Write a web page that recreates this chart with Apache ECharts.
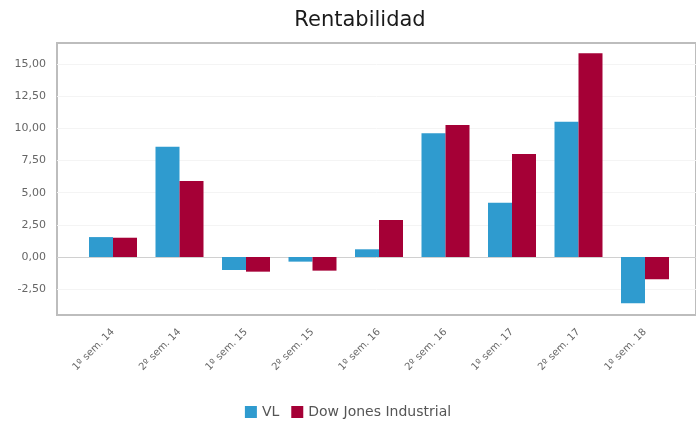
<!DOCTYPE html>
<html>
<head>
<meta charset="utf-8">
<title>Rentabilidad</title>
<script src="https://cdn.jsdelivr.net/npm/echarts@6/dist/echarts.min.js"></script>
<style>
  html, body { margin: 0; padding: 0; background: #fff; }
  #chart { width: 696px; height: 422px; }
</style>
</head>
<body>
<div id="chart"></div>
<script>
// semestres
var categories = ['1º sem. 14', '2º sem. 14', '1º sem. 15', '2º sem. 15', '1º sem. 16',
  '2º sem. 16', '1º sem. 17', '2º sem. 17', '1º sem. 18']
var seriesNames = ['VL', 'Dow Jones Industrial']
var vlData = [1.55, 8.58, -1.01, -0.36, 0.6, 9.62, 4.22, 10.52, -3.6]
var djData = [1.5, 5.91, -1.14, -1.06, 2.88, 10.26, 8.01, 15.84, -1.73]
var yMin = -5
var yMax = 17.5
var yStep = 2.5

var chart = echarts.init(document.getElementById('chart'))

// one colour per split line, -5 .. 17.5 (first and last fall outside the frame)
var splitColors = ['rgba(0,0,0,0)', '#f4f4f4', '#d0d0d0', '#f4f4f4', '#f4f4f4',
  '#f4f4f4', '#f4f4f4', '#f4f4f4', '#f4f4f4', 'rgba(0,0,0,0)']

chart.setOption({
  animation: false,
  textStyle: { fontFamily: 'DejaVu Sans, sans-serif' },
  title: {
    text: 'Rentabilidad',
    left: 355,
    textAlign: 'center',
    top: 5,
    textStyle: { fontSize: 21, fontWeight: 'normal', color: '#1a1a1a' }
  },
  legend: {
    data: seriesNames,
    top: 400,
    left: 'center',
    icon: 'rect',
    itemWidth: 12,
    itemHeight: 12,
    itemGap: 12,
    textStyle: { fontSize: 14, color: '#555' }
  },
  grid: [
    // frame
    { left: 57, top: 43, right: -2, bottom: 107, show: true, borderColor: '#bdbdbd', borderWidth: 2 },
    // value axis + split lines
    { left: 57, top: 32, right: -2, bottom: 100.7 },
    // bars
    { left: 79.75, top: 32, right: 17.75, bottom: 100.7 }
  ],
  xAxis: [
    { gridIndex: 0, type: 'value', show: false },
    { gridIndex: 1, type: 'value', show: false, min: 0, max: 1 },
    {
      gridIndex: 2,
      type: 'category',
      data: categories,
      axisLine: { show: false },
      axisTick: { show: false },
      axisLabel: { rotate: 45, margin: 9, fontSize: 10, color: '#666', interval: 0 }
    }
  ],
  yAxis: [
    { gridIndex: 0, type: 'value', show: false },
    {
      gridIndex: 1,
      type: 'value',
      min: yMin,
      max: yMax,
      interval: yStep,
      axisLine: { show: false },
      axisTick: { show: false },
      axisLabel: {
        margin: 11,
        fontSize: 11,
        color: '#666',
        showMinLabel: false,
        showMaxLabel: false,
        formatter: function(v) {
          return v.toFixed(2).replace('.', ',')
        }
      },
      splitLine: { show: true, lineStyle: { color: splitColors, width: 1 } }
    },
    { gridIndex: 2, type: 'value', show: false, min: yMin, max: yMax }
  ],
  series: [
    {
      name: seriesNames[0],
      type: 'bar',
      xAxisIndex: 2,
      yAxisIndex: 2,
      barWidth: 24,
      barGap: '0%',
      itemStyle: { color: '#2f9bcf' },
      data: vlData
    },
    {
      name: seriesNames[1],
      type: 'bar',
      xAxisIndex: 2,
      yAxisIndex: 2,
      barWidth: 24,
      barGap: '0%',
      itemStyle: { color: '#a50036' },
      data: djData
    }
  ]
})
</script>
</body>
</html>
